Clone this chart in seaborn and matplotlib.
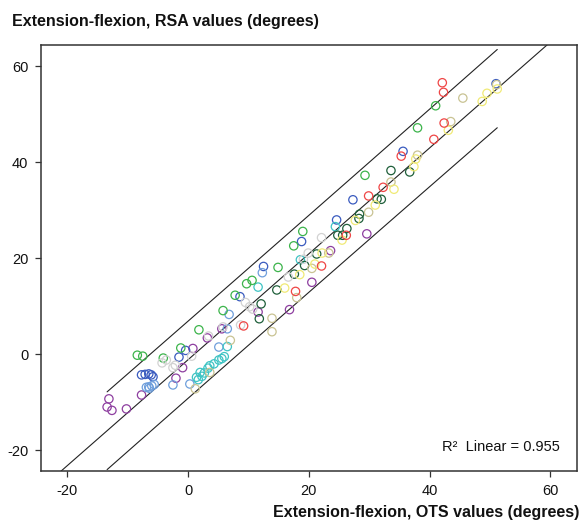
import numpy as np
import pandas as pd
import matplotlib
matplotlib.use("Agg")
import matplotlib.pyplot as plt
import seaborn as sns

# values, one pair of lists per subject colour
purple_x = [-13.1, -13.4, -12.6, -10.2, -7.7, -2.0, -0.9, 0.8, 3.2, 5.6, 11.6, 16.8, 20.5, 23.6, 29.6]
purple_y = [-9.3, -11.0, -11.7, -11.4, -8.5, -5.0, -2.8, 1.2, 3.4, 5.3, 8.8, 9.3, 15.0, 21.6, 25.1]

blue_x = [-7.7, -7.1, -6.5, -6.1, -5.8, -1.5, -0.4, 8.6, 12.5, 18.8, 24.6, 27.3, 35.6, 51.0]
blue_y = [-4.3, -4.2, -4.1, -4.3, -4.7, -0.6, 0.8, 12.0, 18.3, 23.5, 28.0, 32.2, 42.3, 56.4]

lightblue_x = [-6.9, -6.5, -6.0, -5.6, -6.4, -2.5, 0.3, 5.1, 6.5, 6.8, 12.3]
lightblue_y = [-6.9, -6.8, -6.6, -6.3, -7.1, -6.4, -6.2, 1.5, 5.3, 8.3, 17.0]

cyan_x = [1.4, 2.0, 2.3, 1.7, 2.7, 3.3, 3.6, 4.3, 5.1, 5.6, 6.0, 6.5, 11.6, 18.6, 24.4]
cyan_y = [-4.8, -3.8, -4.6, -5.3, -3.9, -2.9, -2.4, -2.0, -1.2, -0.9, -0.5, 1.6, 14.0, 19.7, 26.6]

green_x = [-8.4, -7.5, -4.1, -1.2, 1.8, 5.8, 7.8, 9.7, 10.6, 14.9, 17.5, 19.0, 29.3, 38.0, 41.0]
green_y = [-0.2, -0.4, -0.8, 1.3, 5.1, 9.1, 12.3, 14.7, 15.4, 18.1, 22.6, 25.6, 37.3, 47.2, 51.8]

darkgreen_x = [12.1, 11.8, 14.7, 17.6, 19.3, 21.3, 24.8, 25.6, 26.3, 28.3, 28.4, 31.3, 32.0, 33.6, 36.7]
darkgreen_y = [10.5, 7.4, 13.4, 16.7, 18.5, 20.9, 24.8, 24.8, 26.2, 28.3, 29.2, 32.4, 32.3, 38.3, 38.0]

gray_x = [-4.3, -3.6, -2.5, -2.1, 0.6, 3.4, 5.8, 8.7, 9.5, 10.2, 10.7, 16.6, 19.1, 19.9, 22.1]
gray_y = [-1.8, -1.2, -2.8, -2.3, -0.4, 3.8, 5.7, 6.1, 10.8, 9.9, 9.4, 16.1, 19.8, 21.1, 24.3]

khaki_x = [1.2, 3.6, 7.0, 13.9, 13.9, 18.0, 20.5, 23.3, 29.9, 33.6, 38.0, 43.5, 45.5, 51.1]
khaki_y = [-7.2, -3.8, 2.9, 7.5, 4.7, 11.8, 17.9, 21.1, 29.6, 35.9, 41.5, 48.5, 53.4, 56.2]

yellow_x = [16.0, 18.5, 21.0, 22.2, 25.5, 27.7, 31.0, 34.1, 37.4, 37.7, 43.1, 48.7, 49.5, 51.2]
yellow_y = [13.8, 16.6, 18.8, 21.1, 23.8, 27.9, 31.1, 34.4, 39.1, 40.7, 46.7, 52.7, 54.4, 55.3]

red_x = [9.2, 17.8, 22.1, 26.2, 29.9, 32.3, 35.3, 40.7, 42.4, 42.1, 42.3]
red_y = [5.9, 13.1, 18.4, 24.8, 33.0, 34.8, 41.3, 44.8, 48.2, 56.6, 54.6]

ticks = [-20, 0, 20, 40, 60]
r2_label = "R\u00b2  Linear = 0.955"
title = "Extension-flexion, RSA values (degrees)"
xlabel = "Extension-flexion, OTS values (degrees)"

palette = {
    "purple": "#8e3fa0",
    "blue": "#3a5bbf",
    "lightblue": "#6f9fdc",
    "cyan": "#3fc4c4",
    "green": "#3cb44b",
    "darkgreen": "#1f5f3a",
    "gray": "#d2d2d2",
    "khaki": "#c9c393",
    "yellow": "#f0ea76",
    "red": "#ef4646",
}

groups = [
    ("purple", purple_x, purple_y),
    ("blue", blue_x, blue_y),
    ("lightblue", lightblue_x, lightblue_y),
    ("cyan", cyan_x, cyan_y),
    ("green", green_x, green_y),
    ("darkgreen", darkgreen_x, darkgreen_y),
    ("gray", gray_x, gray_y),
    ("khaki", khaki_x, khaki_y),
    ("yellow", yellow_x, yellow_y),
    ("red", red_x, red_y),
]
df = pd.concat(
    [pd.DataFrame({"ots": gx, "rsa": gy, "subject": name}) for name, gx, gy in groups],
    ignore_index=True,
)

sns.set_style("ticks")
plt.rcParams["font.family"] = ["Liberation Sans", "DejaVu Sans"]
plt.rcParams["axes.unicode_minus"] = False

fig = plt.figure(figsize=(5.81, 5.24), dpi=100)
ax = fig.add_axes([0.070, 0.1006, 0.9231, 0.8129])

lims = (-24.4, 64.4)
ax.set_xlim(lims)
ax.set_ylim(lims)

# least squares fit and 95% individual prediction limits
x = df["ots"].to_numpy()
y = df["rsa"].to_numpy()
n = len(x)
slope, intercept = np.polyfit(x, y, 1)
resid = y - (slope * x + intercept)
s = np.sqrt(np.sum(resid ** 2) / (n - 2))
sxx = np.sum((x - x.mean()) ** 2)
t_crit = 1.978

x_full = np.linspace(lims[0], lims[1], 50)
ax.plot(x_full, slope * x_full + intercept, color="#222222", lw=0.8, zorder=1)
x_pred = np.linspace(x.min(), x.max(), 100)
half = t_crit * s * np.sqrt(1 + 1 / n + (x_pred - x.mean()) ** 2 / sxx)
fit_pred = slope * x_pred + intercept
ax.plot(x_pred, fit_pred + half, color="#222222", lw=0.8, zorder=1)
ax.plot(x_pred, fit_pred - half, color="#222222", lw=0.8, zorder=1)

sns.scatterplot(data=df, x="ots", y="rsa", hue="subject", palette=palette,
                s=36, linewidth=0.9, legend=False, ax=ax, zorder=2)
pts = ax.collections[-1]
pts.set_edgecolors(pts.get_facecolors())
pts.set_facecolors("none")

ax.set_xticks(ticks)
ax.set_yticks(ticks)
ax.set_xlabel("")
ax.set_ylabel("")
ax.tick_params(axis="both", direction="out", length=4.5, width=0.9,
               bottom=True, left=True, top=False, right=False,
               color="#333333", labelsize=10.5, labelcolor="#111111")
ax.tick_params(axis="x", pad=5)
ax.tick_params(axis="y", pad=4.5)
for sp in ax.spines.values():
    sp.set_visible(True)
    sp.set_linewidth(1.1)
    sp.set_color("#333333")

ax.text(61.6, -19.4, r2_label, ha="right", va="center", fontsize=10.5, color="#111111")

fig.text(12 / 581, 1 - 26 / 524, title, ha="left", va="baseline",
         fontsize=11.5, fontweight="bold", color="#111111")
fig.text(0.998, 1 - 517 / 524, xlabel, ha="right", va="baseline",
         fontsize=11.5, fontweight="bold", color="#111111")

fig.savefig("out.png", dpi=100)
